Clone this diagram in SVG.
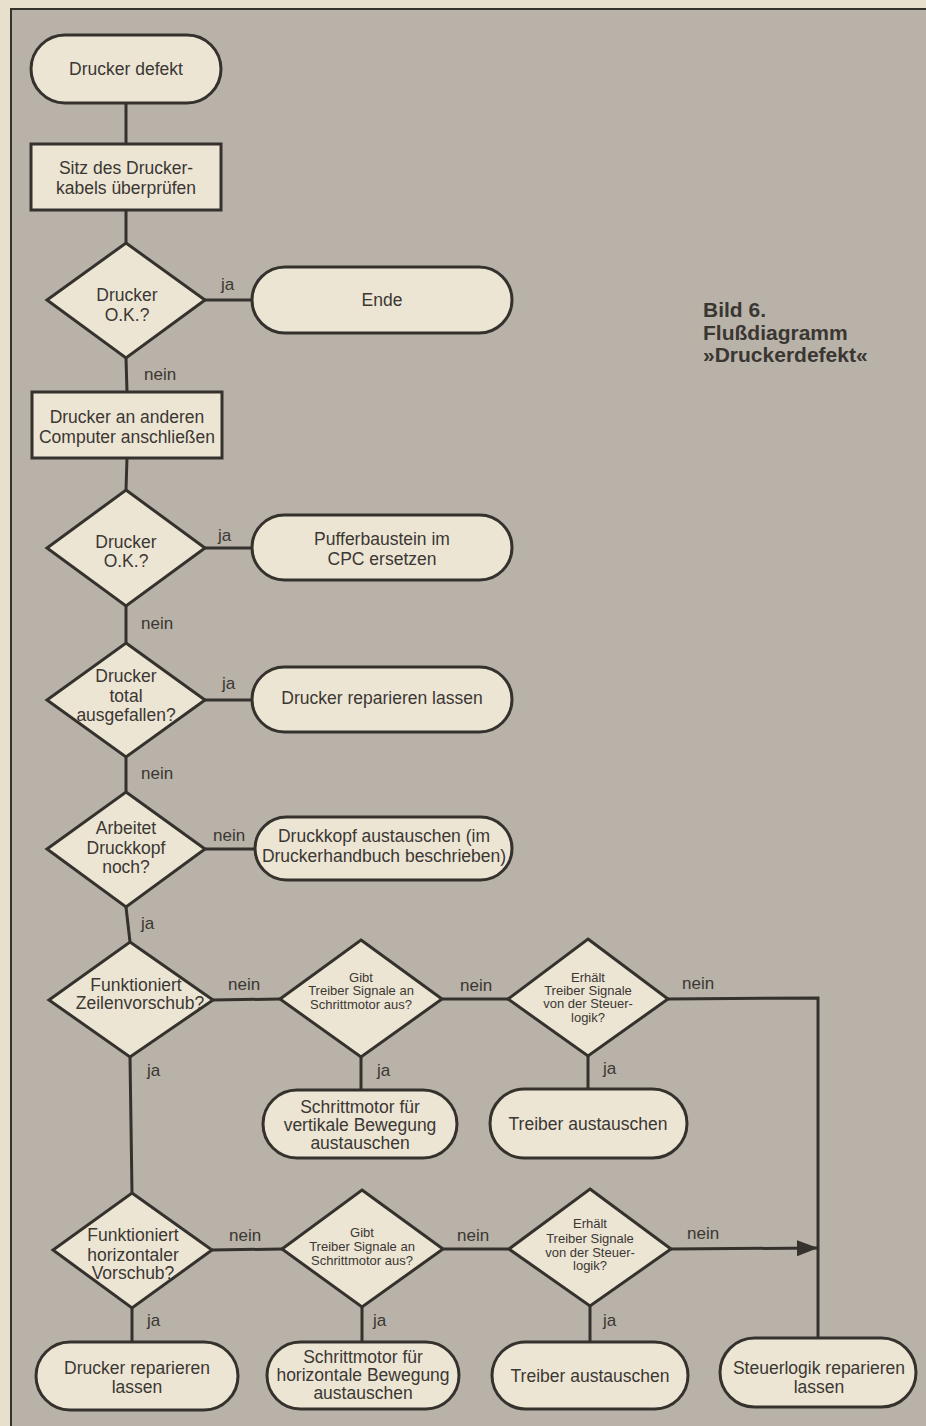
<svg xmlns="http://www.w3.org/2000/svg" width="926" height="1426" viewBox="0 0 926 1426">
<style>
.node{fill:#ece5d4;stroke:#35312d;stroke-width:3}
.t{font-family:"Liberation Sans",Arial,Helvetica,sans-serif;font-size:17.5px;fill:#3b3733;text-anchor:middle;dominant-baseline:central}
.s{font-size:13px}
.lbl{font-family:"Liberation Sans",Arial,Helvetica,sans-serif;font-size:17px;fill:#3b3733;dominant-baseline:central}
.cap{font-family:"Liberation Sans",Arial,Helvetica,sans-serif;font-size:21px;font-weight:bold;fill:#3a3632}
.c{fill:none;stroke:#35312d;stroke-width:3}
</style>
<defs>
<marker id="arr" markerUnits="userSpaceOnUse" markerWidth="22" markerHeight="18" refX="21" refY="9" orient="auto">
<polygon points="0,1 21,9 0,17" fill="#35312d"/>
</marker>
</defs>
<rect x="0" y="0" width="926" height="1426" fill="#e8e0cc"/>
<rect x="11" y="9" width="930" height="1430" fill="#b8b2a8" stroke="#35312d" stroke-width="2"/>

<g id="connectors">
<line class="c" x1="126" y1="103" x2="126" y2="144"/>
<line class="c" x1="126" y1="210" x2="126" y2="243"/>
<line class="c" x1="205" y1="300" x2="252" y2="300"/>
<line class="c" x1="126" y1="358" x2="127" y2="392"/>
<line class="c" x1="127" y1="458" x2="126" y2="490"/>
<line class="c" x1="205" y1="548" x2="252" y2="548"/>
<line class="c" x1="126" y1="606" x2="126" y2="643"/>
<line class="c" x1="205" y1="700" x2="252" y2="700"/>
<line class="c" x1="126" y1="757" x2="126" y2="792"/>
<line class="c" x1="205" y1="849" x2="255" y2="849"/>
<line class="c" x1="126" y1="907" x2="130" y2="942"/>
<line class="c" x1="213" y1="1000" x2="280" y2="999"/>
<line class="c" x1="442" y1="999" x2="508" y2="999"/>
<polyline class="c" points="668,999 818,998 818,1338"/>
<line class="c" x1="361" y1="1057" x2="361" y2="1090"/>
<line class="c" x1="588" y1="1056" x2="588" y2="1089"/>
<line class="c" x1="130" y1="1057" x2="132" y2="1193"/>
<line class="c" x1="212" y1="1250" x2="282" y2="1249"/>
<line class="c" x1="443" y1="1249" x2="509" y2="1249"/>
<line class="c" x1="671" y1="1249" x2="818" y2="1248" marker-end="url(#arr)"/>
<line class="c" x1="132" y1="1308" x2="132" y2="1342"/>
<line class="c" x1="362" y1="1307" x2="362" y2="1342"/>
<line class="c" x1="590" y1="1306" x2="590" y2="1342"/>
</g>

<g id="edge-labels">
<text class="lbl" x="221" y="284">ja</text>
<text class="lbl" x="144" y="374">nein</text>
<text class="lbl" x="218" y="535">ja</text>
<text class="lbl" x="141" y="623">nein</text>
<text class="lbl" x="222" y="683">ja</text>
<text class="lbl" x="141" y="773">nein</text>
<text class="lbl" x="213" y="835">nein</text>
<text class="lbl" x="141" y="923">ja</text>
<text class="lbl" x="228" y="984">nein</text>
<text class="lbl" x="147" y="1070">ja</text>
<text class="lbl" x="460" y="985">nein</text>
<text class="lbl" x="377" y="1070">ja</text>
<text class="lbl" x="682" y="983">nein</text>
<text class="lbl" x="603" y="1068">ja</text>
<text class="lbl" x="229" y="1235">nein</text>
<text class="lbl" x="147" y="1320">ja</text>
<text class="lbl" x="457" y="1235">nein</text>
<text class="lbl" x="373" y="1320">ja</text>
<text class="lbl" x="687" y="1233">nein</text>
<text class="lbl" x="603" y="1320">ja</text>
</g>

<g id="n_start"><rect class="node" x="31" y="35" width="190" height="68" rx="34"/><text class="t" x="126" y="69">Drucker defekt</text></g>
<g id="n_kabel"><rect class="node" x="31" y="144" width="190" height="66"/><text class="t" x="126" y="168">Sitz des Drucker-</text><text class="t" x="126" y="188">kabels überprüfen</text></g>
<g id="d_ok1"><polygon class="node" points="126,243 205,300 126,358 47,300"/><text class="t" x="127" y="295">Drucker</text><text class="t" x="127" y="315">O.K.?</text></g>
<g id="n_ende"><rect class="node" x="252" y="267" width="260" height="66" rx="33"/><text class="t" x="382" y="300">Ende</text></g>
<g id="n_anschliessen"><rect class="node" x="32" y="392" width="190" height="66"/><text class="t" x="127" y="417">Drucker an anderen</text><text class="t" x="127" y="437">Computer anschließen</text></g>
<g id="d_ok2"><polygon class="node" points="126,490 205,548 126,606 47,548"/><text class="t" x="126" y="542">Drucker</text><text class="t" x="126" y="561">O.K.?</text></g>
<g id="n_puffer"><rect class="node" x="252" y="515" width="260" height="65" rx="32.5"/><text class="t" x="382" y="539">Pufferbaustein im</text><text class="t" x="382" y="559">CPC ersetzen</text></g>
<g id="d_total"><polygon class="node" points="126,643 205,700 126,757 47,700"/><text class="t" x="126" y="676">Drucker</text><text class="t" x="126" y="696">total</text><text class="t" x="126" y="715">ausgefallen?</text></g>
<g id="n_reparieren1"><rect class="node" x="252" y="667" width="260" height="65" rx="32.5"/><text class="t" x="382" y="698">Drucker reparieren lassen</text></g>
<g id="d_kopf"><polygon class="node" points="126,792 205,849 126,907 47,849"/><text class="t" x="126" y="828">Arbeitet</text><text class="t" x="126" y="848">Druckkopf</text><text class="t" x="126" y="867">noch?</text></g>
<g id="n_kopf"><rect class="node" x="255" y="817" width="257" height="63" rx="31.5"/><text class="t" x="384" y="836">Druckkopf austauschen (im</text><text class="t" x="384" y="856">Druckerhandbuch beschrieben)</text></g>
<g id="d_zeilen"><polygon class="node" points="130,942 213,1000 130,1057 49,1000"/><text class="t" x="136" y="985">Funktioniert</text><text class="t" x="140" y="1003">Zeilenvorschub?</text></g>
<g id="d_treiber_v"><polygon class="node" points="361,940 442,999 361,1057 280,999"/><text class="t s" x="361" y="977">Gibt</text><text class="t s" x="361" y="990">Treiber Signale an</text><text class="t s" x="361" y="1004">Schrittmotor aus?</text></g>
<g id="d_steuer_v"><polygon class="node" points="588,939 668,999 588,1056 508,999"/><text class="t s" x="588" y="977">Erhält</text><text class="t s" x="588" y="990">Treiber Signale</text><text class="t s" x="588" y="1003">von der Steuer-</text><text class="t s" x="588" y="1017">logik?</text></g>
<g id="n_motor_v"><rect class="node" x="263" y="1090" width="194" height="68" rx="34"/><text class="t" x="360" y="1107">Schrittmotor für</text><text class="t" x="360" y="1125">vertikale Bewegung</text><text class="t" x="360" y="1143">austauschen</text></g>
<g id="n_treiber1"><rect class="node" x="490" y="1089" width="197" height="69" rx="34.5"/><text class="t" x="588" y="1124">Treiber austauschen</text></g>
<g id="d_horizontal"><polygon class="node" points="132,1193 212,1250 132,1308 53,1250"/><text class="t" x="133" y="1235">Funktioniert</text><text class="t" x="133" y="1255">horizontaler</text><text class="t" x="133" y="1273">Vorschub?</text></g>
<g id="d_treiber_h"><polygon class="node" points="362,1190 443,1249 362,1307 282,1249"/><text class="t s" x="362" y="1232">Gibt</text><text class="t s" x="362" y="1246">Treiber Signale an</text><text class="t s" x="362" y="1260">Schrittmotor aus?</text></g>
<g id="d_steuer_h"><polygon class="node" points="590,1189 671,1249 590,1306 509,1249"/><text class="t s" x="590" y="1223">Erhält</text><text class="t s" x="590" y="1238">Treiber Signale</text><text class="t s" x="590" y="1252">von der Steuer-</text><text class="t s" x="590" y="1265">logik?</text></g>
<g id="n_reparieren2"><rect class="node" x="36" y="1342" width="202" height="68" rx="34"/><text class="t" x="137" y="1368">Drucker reparieren</text><text class="t" x="137" y="1387">lassen</text></g>
<g id="n_motor_h"><rect class="node" x="267" y="1342" width="192" height="67" rx="33.5"/><text class="t" x="363" y="1357">Schrittmotor für</text><text class="t" x="363" y="1375">horizontale Bewegung</text><text class="t" x="363" y="1393">austauschen</text></g>
<g id="n_treiber2"><rect class="node" x="492" y="1342" width="196" height="67" rx="33.5"/><text class="t" x="590" y="1376">Treiber austauschen</text></g>
<g id="n_steuerlogik"><rect class="node" x="720" y="1338" width="196" height="69" rx="34.5"/><text class="t" x="819" y="1368">Steuerlogik reparieren</text><text class="t" x="819" y="1387">lassen</text></g>

<g id="caption">
<text class="cap" x="703" y="317">Bild 6.</text>
<text class="cap" x="703" y="340">Flußdiagramm</text>
<text class="cap" x="703" y="362">»Druckerdefekt«</text>
</g>
</svg>
